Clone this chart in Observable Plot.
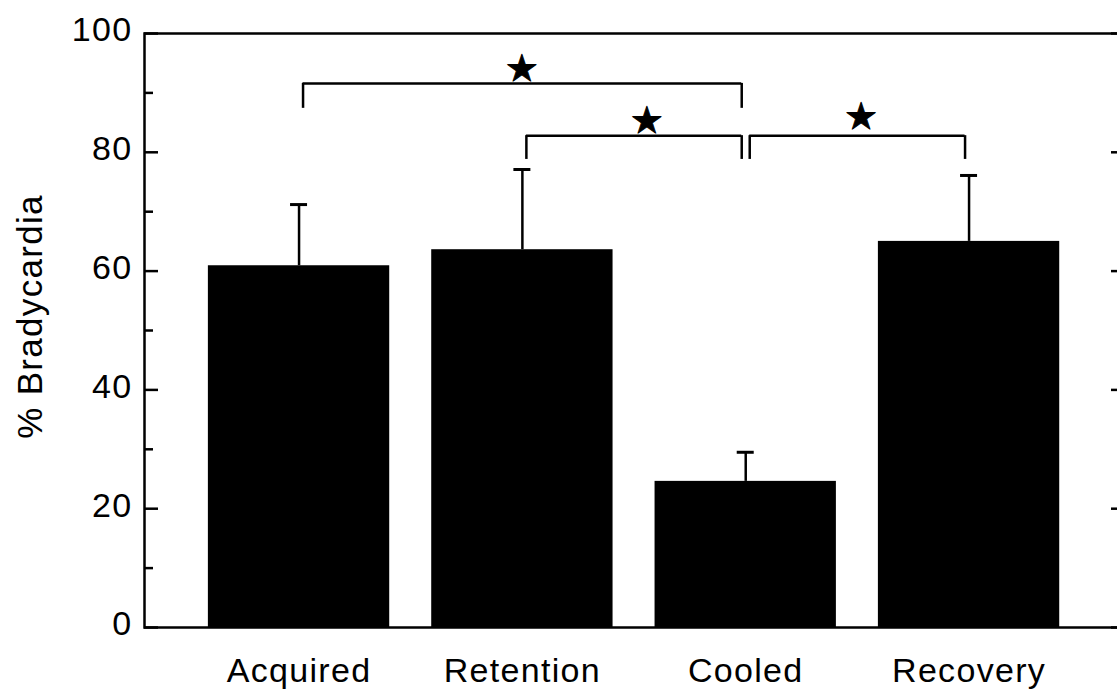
<!DOCTYPE html>
<html><head><meta charset="utf-8">
<script src="https://cdn.jsdelivr.net/npm/d3@7"></script>
<script src="https://cdn.jsdelivr.net/npm/@observablehq/plot@0.6"></script>
<style>
html,body{margin:0;padding:0;background:#fff;overflow:hidden;}
#chart svg text{letter-spacing:1.3px;}
</style></head><body><div id="chart"></div>
<script>
// ---- data ----
const categories = ["Acquired", "Retention", "Cooled", "Recovery"];
const meanPct = [60.9, 63.6, 24.6, 65.0];
const errorTop = [71.2, 77.1, 29.5, 76.1];
const yTicks = [0, 20, 40, 60, 80, 100];
const yMinorTicks = [10, 30, 50, 70, 90];
const yLabel = "% Bradycardia";
// significance brackets (category index from -> to)
const bracketFrom = [0, 1, 2];
const bracketTo = [2, 2, 3];
const bracketTop = [91.6, 82.8, 82.8];
const bracketDrop = [87.4, 78.8, 78.8];
const starX = [1.0, 1.56, 2.52];
const starY = [94.0, 85.2, 86.0];
const starText = ["★", "★", "★"];

// ---- tables built from arrays ----
const rows = categories.map((c, i) => ({i, c, mean: meanPct[i], err: errorTop[i]}));
const brackets = bracketFrom.map((f, k) => ({from: f, to: bracketTo[k], top: bracketTop[k], drop: bracketDrop[k]}));
const stars = starX.map((x, k) => ({x, y: starY[k], t: starText[k]}));

const W = 1130, H = 689;
const chart = Plot.plot({
  width: W, height: H,
  marginLeft: 144, marginRight: 6, marginTop: 33, marginBottom: 62,
  style: {fontFamily: "'Liberation Sans', Arial, sans-serif", fontSize: "34px", color: "black", background: "white", maxWidth: "none", overflow: "visible"},
  x: {type: "linear", domain: [-0.692, 3.696], axis: null},
  y: {domain: [0, 100], axis: null},
  marks: [
    Plot.rectY(rows, {x1: d => d.i - 0.5, x2: d => d.i + 0.5, y: "mean", fill: "black", insetLeft: 21, insetRight: 21}),
    Plot.ruleX(rows, {x: "i", y1: "mean", y2: "err", stroke: "black", strokeWidth: 2.5}),
    Plot.ruleY(rows, {y: "err", x1: "i", x2: "i", insetLeft: -8.5, insetRight: -8.5, stroke: "black", strokeWidth: 3}),
    // brackets
    Plot.ruleY(brackets, {y: "top", x1: "from", x2: "to", insetLeft: 4, insetRight: 4, stroke: "black", strokeWidth: 2.5}),
    Plot.ruleX(brackets, {x: "from", y1: "drop", y2: "top", dx: 4, stroke: "black", strokeWidth: 2.5}),
    Plot.ruleX(brackets, {x: "to", y1: "drop", y2: "top", dx: -4, stroke: "black", strokeWidth: 2.5}),
    Plot.text(stars, {x: "x", y: "y", text: "t", fontSize: 37, fontFamily: "DejaVu Sans", lineAnchor: "middle", textAnchor: "middle", fill: "black", stroke: "black", strokeWidth: 1}),
    // axes
    Plot.axisX({ticks: [0, 1, 2, 3], tickFormat: i => categories[i], tickSize: 0, tickPadding: 30, label: null, fontSize: 34}),
    Plot.axisY({ticks: yTicks, tickSize: 0, tickPadding: 12, label: null, fontSize: 34, dy: -3}),
    Plot.axisY({ticks: yTicks, tickSize: 14, dx: 14, text: null, label: null, strokeWidth: 2.5}),
    Plot.axisY({ticks: yMinorTicks, tickSize: 9, dx: 9, text: null, label: null, strokeWidth: 2.5}),
    Plot.axisY({anchor: "right", ticks: yTicks, tickSize: 14, dx: -14, text: null, label: null, strokeWidth: 2.5}),
    Plot.text([yLabel], {frameAnchor: "left", dx: -114, dy: -14, rotate: -90, fontSize: 35, textAnchor: "middle", lineAnchor: "middle", fill: "black"}),
    Plot.frame({stroke: "black", strokeWidth: 2.5})
  ]
});
document.getElementById("chart").appendChild(chart);
</script></body></html>
